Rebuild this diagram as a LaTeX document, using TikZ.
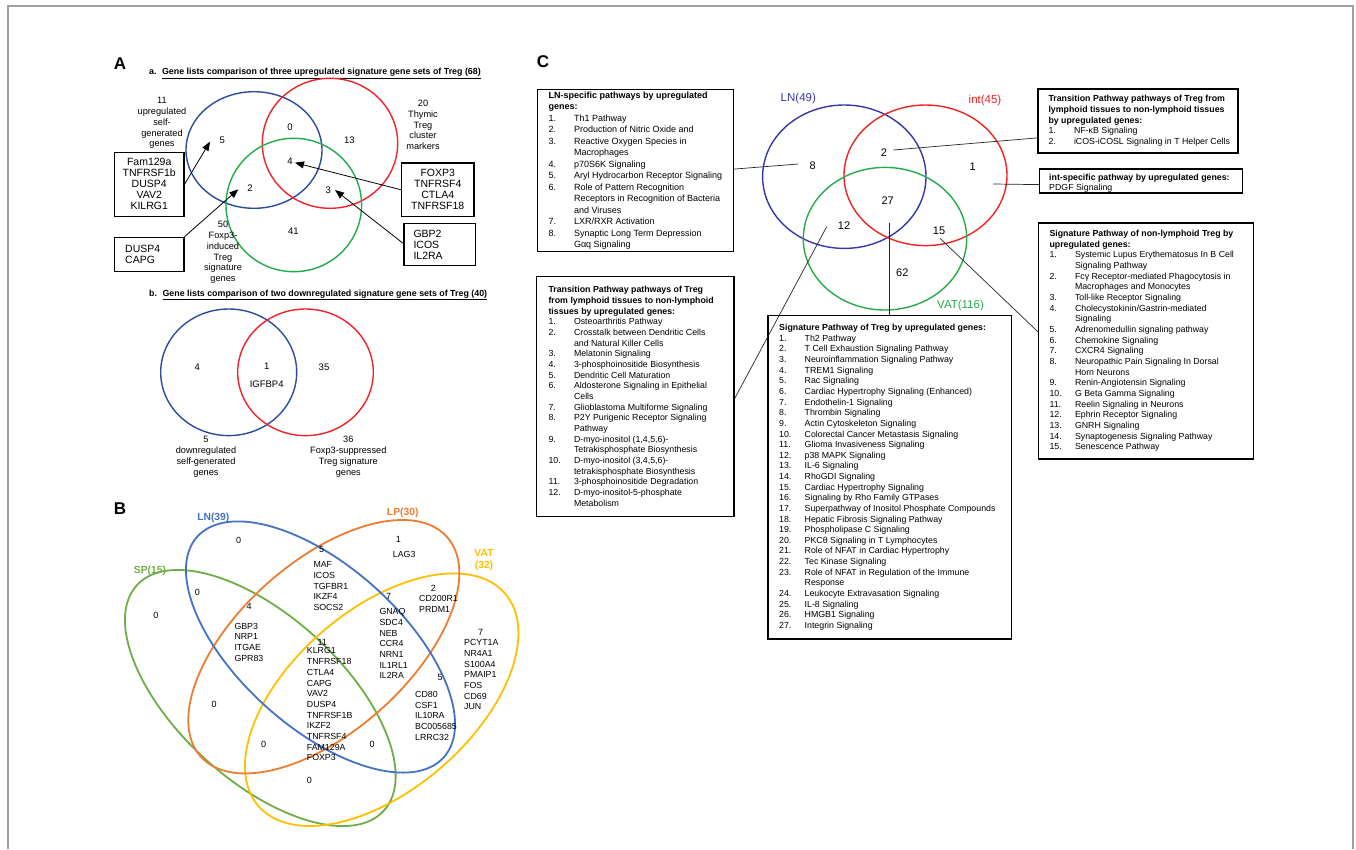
\documentclass[tikz,border=0pt]{standalone}
\usepackage{fontspec}
\setmainfont{Liberation Sans}
\usetikzlibrary{arrows.meta}
\definecolor{aBlue}{RGB}{45,75,160}
\definecolor{aRed}{RGB}{240,35,40}
\definecolor{aGreen}{RGB}{35,170,75}
\definecolor{bBlue}{RGB}{68,114,196}
\definecolor{bOrange}{RGB}{237,125,49}
\definecolor{bGreen}{RGB}{112,173,71}
\definecolor{bYellow}{RGB}{255,192,0}
\definecolor{cBlue}{RGB}{55,55,170}
\definecolor{cRed}{RGB}{240,35,35}
\definecolor{cGreen}{RGB}{40,170,75}
\definecolor{frameGray}{RGB}{160,160,160}
\newcommand\NI[1]{\makebox[25.5pt][l]{#1}}
\begin{document}
\begin{tikzpicture}[x=1pt,y=-1pt,
  panel/.style={font=\bfseries\fontsize{17}{20}\selectfont, inner sep=0pt},
  ttl/.style={font=\bfseries\fontsize{8.85}{10.6}\selectfont, inner sep=0pt, anchor=west},
  vlab/.style={font=\fontsize{9.2}{10.8}\selectfont, align=center, inner sep=0pt},
  vnum/.style={font=\fontsize{9.5}{11}\selectfont, inner sep=0pt},
  cnum/.style={font=\fontsize{11}{13}\selectfont, inner sep=0pt},
  gbox/.style={draw, line width=1.2pt, font=\fontsize{10.5}{11}\selectfont, inner sep=0pt, anchor=north west},
  gtxt/.style={font=\fontsize{10.5}{11}\selectfont, align=left, inner sep=0pt, anchor=west},
  arr/.style={line width=0.8pt, -{Triangle[length=9pt,width=7pt]}},
  blab/.style={font=\bfseries\fontsize{10.3}{12.5}\selectfont, inner sep=0pt, align=center},
  blst/.style={font=\fontsize{8.8}{10.67}\selectfont, align=left, inner sep=0pt, anchor=west},
  pbox/.style={draw, line width=1.2pt, anchor=north west, inner sep=0pt},
  ptxt/.style={font=\fontsize{8.8}{10.63}\selectfont, align=left, inner sep=0pt, anchor=west},
  clab/.style={font=\fontsize{11.5}{13}\selectfont, inner sep=0pt},
  conn/.style={line width=0.7pt, draw=black!85},
  vA/.style={line width=1.4pt},
  vB/.style={line width=1.8pt},
  vC/.style={line width=1.4pt}
]
\useasboundingbox (0,0) rectangle (1356,849);
\fill[white] (0,0) rectangle (1356,849);
\draw[frameGray, line width=1.5pt] (8,849) -- (8,6) -- (1353,6) -- (1353,849);

% ================= Panel A =================
\node[panel] (lblA) at (120,63.5) {A};
\node[ttl] (ttlA) at (149,73.5) {a.\hspace{5.5pt}\underline{Gene lists comparison of three upregulated signature gene sets of Treg (68)}};

\draw[vA, aBlue] (254,150) ellipse [x radius=68pt, y radius=58.3pt];
\draw[vA, aRed] (330,143.3) ellipse [x radius=67.7pt, y radius=65pt];
\draw[vA, aGreen] (293.8,205) ellipse [x radius=67.8pt, y radius=66.7pt];

\node[vlab] (labA1) at (162,123) {11\\upregulated\\self-\\generated\\genes};
\node[vlab] (labA2) at (423,125) {20\\Thymic\\Treg\\cluster\\markers};
\node[vlab] (labA3) at (223,252.5) {50\\Foxp3-\\induced\\Treg\\signature\\genes};

\node[vnum] (nA5) at (222.3,140) {5};
\node[vnum] (nA0) at (290,127.7) {0};
\node[vnum] (nA13) at (349.3,140) {13};
\node[vnum] (nA4) at (290,161.7) {4};
\node[vnum] (nA2) at (250,188.3) {2};
\node[vnum] (nA3) at (328.3,190) {3};
\node[vnum] (nA41) at (293.3,231) {41};

\node[gbox, minimum width=69.3pt, minimum height=64pt, align=center] (b1) at (114,151.7) {Fam129a\\TNFRSF1b\\DUSP4\\VAV2\\KILRG1};
\node[gbox, minimum width=69.3pt, minimum height=34pt] (b2) at (114,236.7) {};
\node[gtxt] (b2t) at ([xshift=11pt]b2.west) {DUSP4\\CAPG};
\node[gbox, minimum width=72.3pt, minimum height=53.7pt, align=center] (b3) at (401,162.3) {FOXP3\\TNFRSF4\\CTLA4\\TNFRSF18};
\node[gbox, minimum width=71.7pt, minimum height=42.3pt] (b4) at (403.3,222.7) {};
\node[gtxt] (b4t) at ([xshift=10pt]b4.west) {GBP2\\ICOS\\IL2RA};

\coordinate (tA5) at (210,141.7);
\coordinate (tA2) at (238.3,189.3);
\coordinate (tA4) at (295,162.7);
\coordinate (tA3) at (335,190);
\draw[arr] (b1.east) -- (tA5);
\draw[arr] (b2.north east) -- (tA2);
\draw[arr] (b3.west) -- (tA4);
\draw[arr] ([yshift=1pt]b4.west) -- (tA3);

% A b
\node[ttl] (ttlB) at (149,295) {b.\hspace{5.5pt}\underline{Gene lists comparison of two downregulated signature gene sets of Treg (40)}};
\draw[vA, aBlue] (228.7,372.3) ellipse [x radius=68pt, y radius=63.3pt];
\draw[vA, aRed] (305.5,372.3) ellipse [x radius=67.8pt, y radius=63.3pt];
\node[vnum] (nB4) at (197.3,367.3) {4};
\node[vnum] (nB1) at (266.7,366) {1};
\node[vnum] (nBig) at (266.7,384) {IGFBP4};
\node[vnum] (nB35) at (324,367.3) {35};
\node[vlab, font=\fontsize{9.2}{11}\selectfont] (labB1) at (206,457) {5\\downregulated\\self-generated\\genes};
\node[vlab, font=\fontsize{9.2}{11}\selectfont] (labB2) at (348.3,457) {36\\Foxp3-suppressed\\Treg signature\\genes};

% ================= Panel B =================
\node[panel] (lblB) at (120,508.3) {B};
\draw[vB, bGreen, rotate around={-42.4:(260.3,698)}] (260.3,698) ellipse [x radius=167.2pt, y radius=82.2pt];
\draw[vB, bYellow, rotate around={40.7:(381.7,699.7)}] (381.7,699.7) ellipse [x radius=162.8pt, y radius=90.2pt];
\draw[vB, bOrange, rotate around={41.7:(323.8,646.7)}] (323.8,646.7) ellipse [x radius=165pt, y radius=84.8pt];
\draw[vB, bBlue, rotate around={-41.8:(320.5,647)}] (320.5,647) ellipse [x radius=165.4pt, y radius=80.7pt];

\node[blab, text=bBlue] (labLN) at (213.3,518.3) {LN(39)};
\node[blab, text=bOrange] (labLP) at (402.7,512.7) {LP(30)};
\node[blab, text=bYellow] (labVAT) at (484,560) {VAT\\(32)};
\node[blab, text=bGreen] (labSP) at (150,570.7) {SP(15)};

\node[vnum, font=\fontsize{9}{11}\selectfont] (q1) at (238.7,540.7) {0};
\node[vnum, font=\fontsize{9}{11}\selectfont] (q2) at (321.7,549) {5};
\node[blst] (g2) at (313.3,586.3) {MAF\\ICOS\\TGFBR1\\IKZF4\\SOCS2};
\node[vnum, font=\fontsize{9}{11}\selectfont] (q3) at (398.3,539) {1};
\node[blst] (g3) at (392.7,554.3) {LAG3};
\node[vnum, font=\fontsize{9}{11}\selectfont] (q4) at (197.3,592.7) {0};
\node[vnum, font=\fontsize{9}{11}\selectfont] (q5) at (156,615) {0};
\node[vnum, font=\fontsize{9}{11}\selectfont] (q6) at (249,606.7) {4};
\node[blst] (g6) at (234.3,642.2) {GBP3\\NRP1\\ITGAE\\GPR83};
\node[vnum, font=\fontsize{9}{11}\selectfont] (q7) at (388.7,596.7) {7};
\node[blst] (g7) at (379.3,643.7) {GNAQ\\SDC4\\NEB\\CCR4\\NRN1\\IL1RL1\\IL2RA};
\node[vnum, font=\fontsize{9}{11}\selectfont] (q8) at (433.3,588.3) {2};
\node[blst] (g8) at (419,603.7) {CD200R1\\PRDM1};
\node[vnum, font=\fontsize{9}{11}\selectfont] (q9) at (322.3,642.7) {11};
\node[blst] (g9) at (306.7,704.3) {KLRG1\\TNFRSF18\\CTLA4\\CAPG\\VAV2\\DUSP4\\TNFRSF1B\\IKZF2\\TNFRSF4\\FAM129A\\FOXP3};
\node[vnum, font=\fontsize{9}{11}\selectfont] (q10) at (480.7,632.3) {7};
\node[blst] (g10) at (464,674.7) {PCYT1A\\NR4A1\\S100A4\\PMAIP1\\FOS\\CD69\\JUN};
\node[vnum, font=\fontsize{9}{11}\selectfont] (q11) at (440,677.3) {5};
\node[blst] (g11) at (415,715.7) {CD80\\CSF1\\IL10RA\\BC005685\\LRRC32};
\node[vnum, font=\fontsize{9}{11}\selectfont] (q12) at (214,704) {0};
\node[vnum, font=\fontsize{9}{11}\selectfont] (q13) at (263.7,744.3) {0};
\node[vnum, font=\fontsize{9}{11}\selectfont] (q14) at (372,744.3) {0};
\node[vnum, font=\fontsize{9}{11}\selectfont] (q15) at (309.3,780.3) {0};

% ================= Panel C =================
\node[panel] (lblC) at (543,62) {C};
\draw[vC, cBlue] (844.3,176.7) ellipse [x radius=81.7pt, y radius=71.7pt];
\draw[vC, cRed] (925.5,175.3) ellipse [x radius=81.5pt, y radius=70.3pt];
\draw[vC, cGreen] (885,238.7) ellipse [x radius=81.7pt, y radius=71.3pt];
\node[clab, text=cBlue] (labCLN) at (798.3,98.3) {LN(49)};
\node[clab, text=cRed] (labCint) at (985,101) {int(45)};
\node[clab, text=cGreen] (labCVAT) at (960.5,306) {VAT(116)};

\node[cnum] (c8n) at (812.7,166) {8};
\node[cnum] (c2n) at (884,152.3) {2};
\node[cnum] (c1n) at (972.7,166.7) {1};
\node[cnum] (c27n) at (887.7,200.7) {27};
\node[cnum] (c12n) at (844,225.3) {12};
\node[cnum] (c15n) at (939,230.7) {15};
\node[cnum] (c62n) at (902.3,272.3) {62};

% boxes
\node[pbox, minimum width=196pt, minimum height=162pt] (lnbox) at (536.7,89) {};
\node[ptxt, font=\fontsize{9}{11.47}\selectfont] (lntext) at ([xshift=11.6pt]lnbox.west) {%
\textbf{LN-specific pathways by upregulated}\\
\textbf{genes:}\\
\NI{1.}Th1 Pathway\\
\NI{2.}Production of Nitric Oxide and\\
\NI{3.}Reactive Oxygen Species in\\
\NI{}Macrophages\\
\NI{4.}p70S6K Signaling\\
\NI{5.}Aryl Hydrocarbon Receptor Signaling\\
\NI{6.}Role of Pattern Recognition\\
\NI{}Receptors in Recognition of Bacteria\\
\NI{}and Viruses\\
\NI{7.}LXR/RXR Activation\\
\NI{8.}Synaptic Long Term Depression\\
\NI{}Gαq Signaling};

\node[pbox, minimum width=200pt, minimum height=64pt] (trbox) at (1037.3,88.3) {};
\node[ptxt, font=\fontsize{8.8}{10.8}\selectfont] (trtext) at ([xshift=11pt]trbox.west) {%
\textbf{Transition Pathway pathways of Treg from}\\
\textbf{lymphoid tissues to non-lymphoid tissues}\\
\textbf{by upregulated genes:}\\
\NI{1.}NF-κB Signaling\\
\NI{2.}iCOS-iCOSL Signaling in T Helper Cells};

\node[pbox, minimum width=203pt, minimum height=24pt] (intbox) at (1039,168.3) {};
\node[ptxt, font=\fontsize{8.8}{10}\selectfont] (inttext) at ([xshift=10pt,yshift=-2pt]intbox.west) {%
\textbf{int-specific pathway by upregulated genes:}\\
PDGF Signaling};

\node[pbox, minimum width=215pt, minimum height=236pt] (nlbox) at (1037.7,222.3) {};
\node[ptxt, font=\fontsize{8.8}{10.67}\selectfont] (nltext) at ([xshift=11.6pt]nlbox.west) {%
\textbf{Signature Pathway of non-lymphoid Treg by}\\
\textbf{upregulated genes:}\\
\NI{1.}Systemic Lupus Erythematosus In B Cell\\
\NI{}Signaling Pathway\\
\NI{2.}Fcγ Receptor-mediated Phagocytosis in\\
\NI{}Macrophages and Monocytes\\
\NI{3.}Toll-like Receptor Signaling\\
\NI{4.}Cholecystokinin/Gastrin-mediated\\
\NI{}Signaling\\
\NI{5.}Adrenomedullin signaling pathway\\
\NI{6.}Chemokine Signaling\\
\NI{7.}CXCR4 Signaling\\
\NI{8.}Neuropathic Pain Signaling In Dorsal\\
\NI{}Horn Neurons\\
\NI{9.}Renin-Angiotensin Signaling\\
\NI{10.}G Beta Gamma Signaling\\
\NI{11.}Reelin Signaling in Neurons\\
\NI{12.}Ephrin Receptor Signaling\\
\NI{13.}GNRH Signaling\\
\NI{14.}Synaptogenesis Signaling Pathway\\
\NI{15.}Senescence Pathway};

\node[pbox, minimum width=197.3pt, minimum height=239.7pt] (tlbox) at (536,276) {};
\node[ptxt, font=\fontsize{8.8}{10.67}\selectfont] (tltext) at ([xshift=12.3pt]tlbox.west) {%
\textbf{Transition Pathway pathways of Treg}\\
\textbf{from lymphoid tissues to non-lymphoid}\\
\textbf{tissues by upregulated genes:}\\
\NI{1.}Osteoarthritis Pathway\\
\NI{2.}Crosstalk between Dendritic Cells\\
\NI{}and Natural Killer Cells\\
\NI{3.}Melatonin Signaling\\
\NI{4.}3-phosphoinositide Biosynthesis\\
\NI{5.}Dendritic Cell Maturation\\
\NI{6.}Aldosterone Signaling in Epithelial\\
\NI{}Cells\\
\NI{7.}Glioblastoma Multiforme Signaling\\
\NI{8.}P2Y Purigenic Receptor Signaling\\
\NI{}Pathway\\
\NI{9.}D-myo-inositol (1,4,5,6)-\\
\NI{}Tetrakisphosphate Biosynthesis\\
\NI{10.}D-myo-inositol (3,4,5,6)-\\
\NI{}tetrakisphosphate Biosynthesis\\
\NI{11.}3-phosphoinositide Degradation\\
\NI{12.}D-myo-inositol-5-phosphate\\
\NI{}Metabolism};

\node[pbox, minimum width=243.4pt, minimum height=323.3pt] (sigbox) at (767.3,315) {};
\node[ptxt, font=\fontsize{8.8}{10.63}\selectfont] (sigtext) at ([xshift=11.7pt]sigbox.west) {%
\textbf{Signature Pathway of Treg by upregulated genes:}\\
\NI{1.}Th2 Pathway\\
\NI{2.}T Cell Exhaustion Signaling Pathway\\
\NI{3.}Neuroinflammation Signaling Pathway\\
\NI{4.}TREM1 Signaling\\
\NI{5.}Rac Signaling\\
\NI{6.}Cardiac Hypertrophy Signaling (Enhanced)\\
\NI{7.}Endothelin-1 Signaling\\
\NI{8.}Thrombin Signaling\\
\NI{9.}Actin Cytoskeleton Signaling\\
\NI{10.}Colorectal Cancer Metastasis Signaling\\
\NI{11.}Glioma Invasiveness Signaling\\
\NI{12.}p38 MAPK Signaling\\
\NI{13.}IL-6 Signaling\\
\NI{14.}RhoGDI Signaling\\
\NI{15.}Cardiac Hypertrophy Signaling\\
\NI{16.}Signaling by Rho Family GTPases\\
\NI{17.}Superpathway of Inositol Phosphate Compounds\\
\NI{18.}Hepatic Fibrosis Signaling Pathway\\
\NI{19.}Phospholipase C Signaling\\
\NI{20.}PKCθ Signaling in T Lymphocytes\\
\NI{21.}Role of NFAT in Cardiac Hypertrophy\\
\NI{22.}Tec Kinase Signaling\\
\NI{23.}Role of NFAT in Regulation of the Immune\\
\NI{}Response\\
\NI{24.}Leukocyte Extravasation Signaling\\
\NI{25.}IL-8 Signaling\\
\NI{26.}HMGB1 Signaling\\
\NI{27.}Integrin Signaling};

% connectors C
\coordinate (e8) at (798.3,164);
\coordinate (e2) at (893.3,150);
\coordinate (e1) at (993.3,184);
\coordinate (e15) at (940,238.3);
\coordinate (e12) at (826.7,226.7);
\coordinate (e27) at (889.7,222.7);
\draw[conn] ([yshift=1.5pt]lnbox.east) -- (e8);
\draw[conn] ([yshift=-17pt]trbox.west) -- (e2);
\draw[conn] ([yshift=-3.7pt]intbox.west) -- (e1);
\draw[conn] ([yshift=9.3pt]nlbox.west) -- (e15);
\draw[conn] ([yshift=-2.4pt]tlbox.east) -- (e12);
\draw[conn] (e27) -- (e27 |- sigbox.north);
\end{tikzpicture}
\end{document}
